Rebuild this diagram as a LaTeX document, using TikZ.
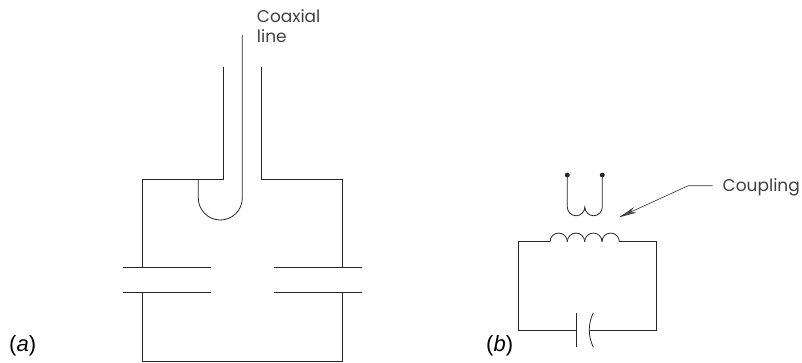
\documentclass[tikz,border=0pt]{standalone}
\usepackage{fontspec}
\setmainfont{Liberation Sans}
\newfontfamily\labelfont{Poppins}
\usetikzlibrary{arrows.meta, calc}

\tikzset{
    wire/.style={line width=0.8pt, black!85},
    callout/.style={font=\labelfont\fontsize{17}{20}\selectfont, inner sep=0pt, align=left, black!75},
    partlabel/.style={font=\fontsize{22}{24}\selectfont, inner sep=0pt}
}

\begin{document}
\begin{tikzpicture}[x=1pt,y=-1pt]
    \useasboundingbox (0,0) rectangle (802,362);

    % (a) cavity with coaxial feed
    \draw[wire] (223.3,66.7) -- (223.3,179) -- (142.3,179) -- (142.3,267);
    \draw[wire] (261,66.7) -- (261,179) -- (342.7,179) -- (342.7,267);
    \draw[wire] (142.3,292.3) -- (142.3,361) -- (342.7,361) -- (342.7,292.3);
    \draw[wire] (242.3,35) -- (242.3,198) arc[start angle=0, end angle=180, radius=22] -- (198.3,179);
    \foreach \y in {267,292.3} {
        \draw[wire] (123,\y) -- (211,\y);
        \draw[wire] (274,\y) -- (361.7,\y);
    }
    \node[callout, anchor=base west] (coaxlabel) at (256.7,42.7) {Coaxial\\line};
    \node[partlabel, anchor=base west] (alabel) at (9,351.5) {(\textit{a})};

    % (b) tuned circuit with coupling loop
    \coordinate (tipA) at (567.3,175);
    \coordinate (tipB) at (602.3,175);
    \filldraw[wire] (tipA) circle (2pt);
    \filldraw[wire] (tipB) circle (2pt);
    \draw[wire] (tipA) -- (567.3,207) arc[start angle=180, end angle=0, radius=8.75]
        arc[start angle=180, end angle=0, radius=8.75] -- (tipB);

    \draw[wire] (589.3,330) -- (656.7,330) -- (656.7,241.7) -- (619.3,241.7);
    \foreach \n in {3,2,1,0} {
        \draw[wire] ({550+(\n+1)*17.33},241.7) arc[start angle=0, end angle=-180, radius=8.665];
    }
    \draw[wire] (550,241.7) -- (518.3,241.7) -- (518.3,330) -- (576.3,330);
    \draw[wire] (576.3,312.7) -- (576.3,347.3);
    \draw[wire] (593.3,312.7) .. controls (587.9,324) and (587.9,336) .. (593.3,347.3);

    \node[callout, anchor=base west] (couplabel) at (722.5,191.5) {Coupling};
    \coordinate (bend) at (688.3,185.7);
    \coordinate (arrowtip) at (619,217.3);
    \draw[line width=0.6pt, black!80, -{Stealth[length=18pt, width=6pt, fill=black!65]}] (712.7,185.7) -- (bend) -- (arrowtip);
    \node[partlabel, anchor=base west] (blabel) at (486,351.5) {(\textit{b})};
\end{tikzpicture}
\end{document}
